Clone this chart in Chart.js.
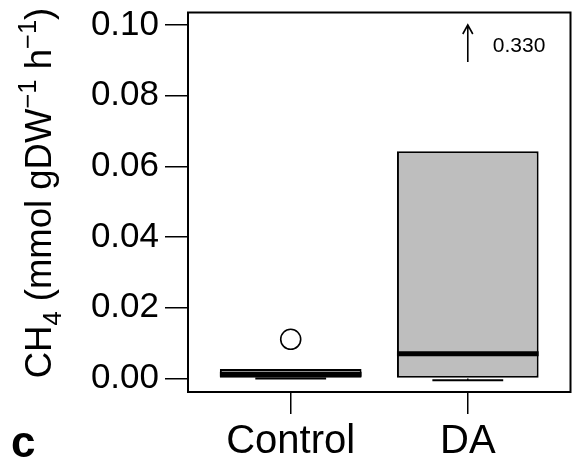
<!DOCTYPE html>
<html>
<head>
<meta charset="utf-8">
<script src="https://cdn.jsdelivr.net/npm/chart.js@4/dist/chart.umd.min.js"></script>
<style>
  html, body { margin: 0; padding: 0; background: #fff; }
  canvas { display: block; }
</style>
</head>
<body>
<canvas id="boxChart" width="574" height="473"></canvas>
<script>
    'use strict';

    // fonts
    var FONT = "'Liberation Sans', Arial, sans-serif";

    // ---- data ----
    var categories = ['Control', 'DA'];
    var q1 = [0.0000, 0.0000];
    var q3 = [0.0027, 0.0643];
    var medians = [0.0012, 0.0070];
    var lowerWhisker = [0.0000, -0.0005];
    var outlierCategory = [0];
    var outlierValue = [0.0111];
    // values above the y range, shown with an arrow
    var offScaleCategory = [1];
    var offScaleValue = [0.330];
    var yTicks = [0.00, 0.02, 0.04, 0.06, 0.08, 0.10];

    var boxData = categories.map(function (c, i) {
        return { x: i + 1, y: [q1[i], q3[i]] };
    });
    var outlierData = outlierValue.map(function (v, i) {
        return { x: outlierCategory[i] + 1, y: v };
    });

    // ------------------------------------------------------- //
    // extra marks: medians, staples, frame, arrow, labels
    // ------------------------------------------------------ //
    var boxExtras = {
        id: 'boxExtras',
        afterDatasetsDraw: function (chart) {
            var ctx = chart.ctx;
            var xs = chart.scales.x, ys = chart.scales.y;
            var area = chart.chartArea;
            var bars = chart.getDatasetMeta(0).data;

            ctx.save();
            ctx.strokeStyle = '#000';
            ctx.lineCap = 'butt';

            bars.forEach(function (bar, i) {
                var half = bar.width / 2;
                // lower whisker + staple
                var yw = ys.getPixelForValue(lowerWhisker[i]);
                var yq = ys.getPixelForValue(q1[i]);
                ctx.lineWidth = 1.5;
                ctx.beginPath();
                ctx.moveTo(bar.x, yq);
                ctx.lineTo(bar.x, yw);
                ctx.stroke();
                ctx.lineWidth = 2;
                ctx.beginPath();
                ctx.moveTo(bar.x - half / 2, yw);
                ctx.lineTo(bar.x + half / 2, yw);
                ctx.stroke();
                // median
                var ym = ys.getPixelForValue(medians[i]);
                ctx.lineWidth = 5;
                ctx.beginPath();
                ctx.moveTo(bar.x - half, ym);
                ctx.lineTo(bar.x + half, ym);
                ctx.stroke();
            });

            // frame
            ctx.lineWidth = 2;
            ctx.strokeRect(area.left, area.top, area.right - area.left, area.bottom - area.top);

            // arrows for values beyond the axis
            offScaleValue.forEach(function (v, i) {
                var ax = xs.getPixelForValue(offScaleCategory[i] + 1);
                var tip = ys.getPixelForValue(ys.max) + 12.5;
                var tail = tip + 37;
                ctx.lineWidth = 1.6;
                ctx.beginPath();
                ctx.moveTo(ax, tail);
                ctx.lineTo(ax, tip);
                ctx.moveTo(ax - 5, tip + 9);
                ctx.lineTo(ax, tip);
                ctx.lineTo(ax + 5, tip + 9);
                ctx.stroke();
                ctx.fillStyle = '#000';
                ctx.font = '21px ' + FONT;
                ctx.textAlign = 'left';
                ctx.textBaseline = 'middle';
                ctx.fillText(v.toFixed(3), ax + 25, tip + 21);
            });

            // y title with sub/superscripts
            var parts = [
                ['CH', 0, 1], ['4', 10, 0.7], [' (mmol gDW', 0, 1],
                ['\u22121', -15, 0.7], [' h', 0, 1], ['\u22121', -15, 0.7], [')', 0, 1]
            ];
            var size = 36.5;
            var total = 0;
            parts.forEach(function (p) {
                ctx.font = (size * p[2]) + 'px ' + FONT;
                total += ctx.measureText(p[0]).width;
            });
            ctx.translate(51, 193);
            ctx.rotate(-Math.PI / 2);
            ctx.textAlign = 'left';
            ctx.textBaseline = 'alphabetic';
            var pos = -total / 2;
            parts.forEach(function (p) {
                ctx.font = (size * p[2]) + 'px ' + FONT;
                ctx.fillText(p[0], pos, p[1]);
                pos += ctx.measureText(p[0]).width;
            });
            ctx.setTransform(1, 0, 0, 1, 0, 0);

            // panel letter
            ctx.font = 'bold 44px ' + FONT;
            ctx.fillText('c', 11, 457);
            ctx.restore();
        }
    };

    var myBoxChart = new Chart(document.getElementById('boxChart'), {
        type: 'bar',
        data: {
            datasets: [
                {
                    label: 'IQR',
                    data: boxData,
                    backgroundColor: '#bebebe',
                    borderColor: '#000',
                    borderWidth: 2,
                    borderSkipped: false,
                    grouped: false,
                    categoryPercentage: 1,
                    barPercentage: 0.8
                },
                {
                    type: 'scatter',
                    label: 'Outliers',
                    data: outlierData,
                    pointRadius: 10,
                    pointBackgroundColor: 'rgba(255,255,255,0)',
                    pointBorderColor: '#000',
                    pointBorderWidth: 1.6
                }
            ]
        },
        options: {
            responsive: false,
            animation: false,
            layout: {
                autoPadding: false,
                padding: { top: 12.5, right: 3.5, left: 0, bottom: 0 }
            },
            plugins: {
                legend: { display: false },
                tooltip: { enabled: false }
            },
            scales: {
                x: {
                    type: 'linear',
                    min: 0.42,
                    max: 2.58,
                    offset: false,
                    afterBuildTicks: function (s) {
                        s.ticks = categories.map(function (c, i) { return { value: i + 1 }; });
                    },
                    afterFit: function (s) {
                        s.height = 81;
                        s.paddingLeft = 0;
                        s.paddingRight = 0;
                    },
                    grid: { drawOnChartArea: false, offset: false, tickLength: 22, color: '#000', lineWidth: 1.5 },
                    border: { display: false },
                    ticks: {
                        color: '#000',
                        padding: 4,
                        maxRotation: 0,
                        autoSkip: false,
                        font: { family: FONT, size: 40 },
                        callback: function (v) { return categories[v - 1]; }
                    }
                },
                y: {
                    min: -0.0038,
                    max: 0.1035,
                    afterBuildTicks: function (s) {
                        s.ticks = yTicks.map(function (v) { return { value: v }; });
                    },
                    afterFit: function (s) {
                        s.width = 188;
                        s.paddingTop = 0;
                        s.paddingBottom = 0;
                    },
                    grid: { drawOnChartArea: false, tickLength: 23, color: '#000', lineWidth: 1.5 },
                    border: { display: false },
                    ticks: {
                        color: '#000',
                        padding: 6,
                        font: { family: FONT, size: 35 },
                        callback: function (v) { return v.toFixed(2); }
                    }
                }
            }
        },
        plugins: [boxExtras]
    });
</script>
</body>
</html>
